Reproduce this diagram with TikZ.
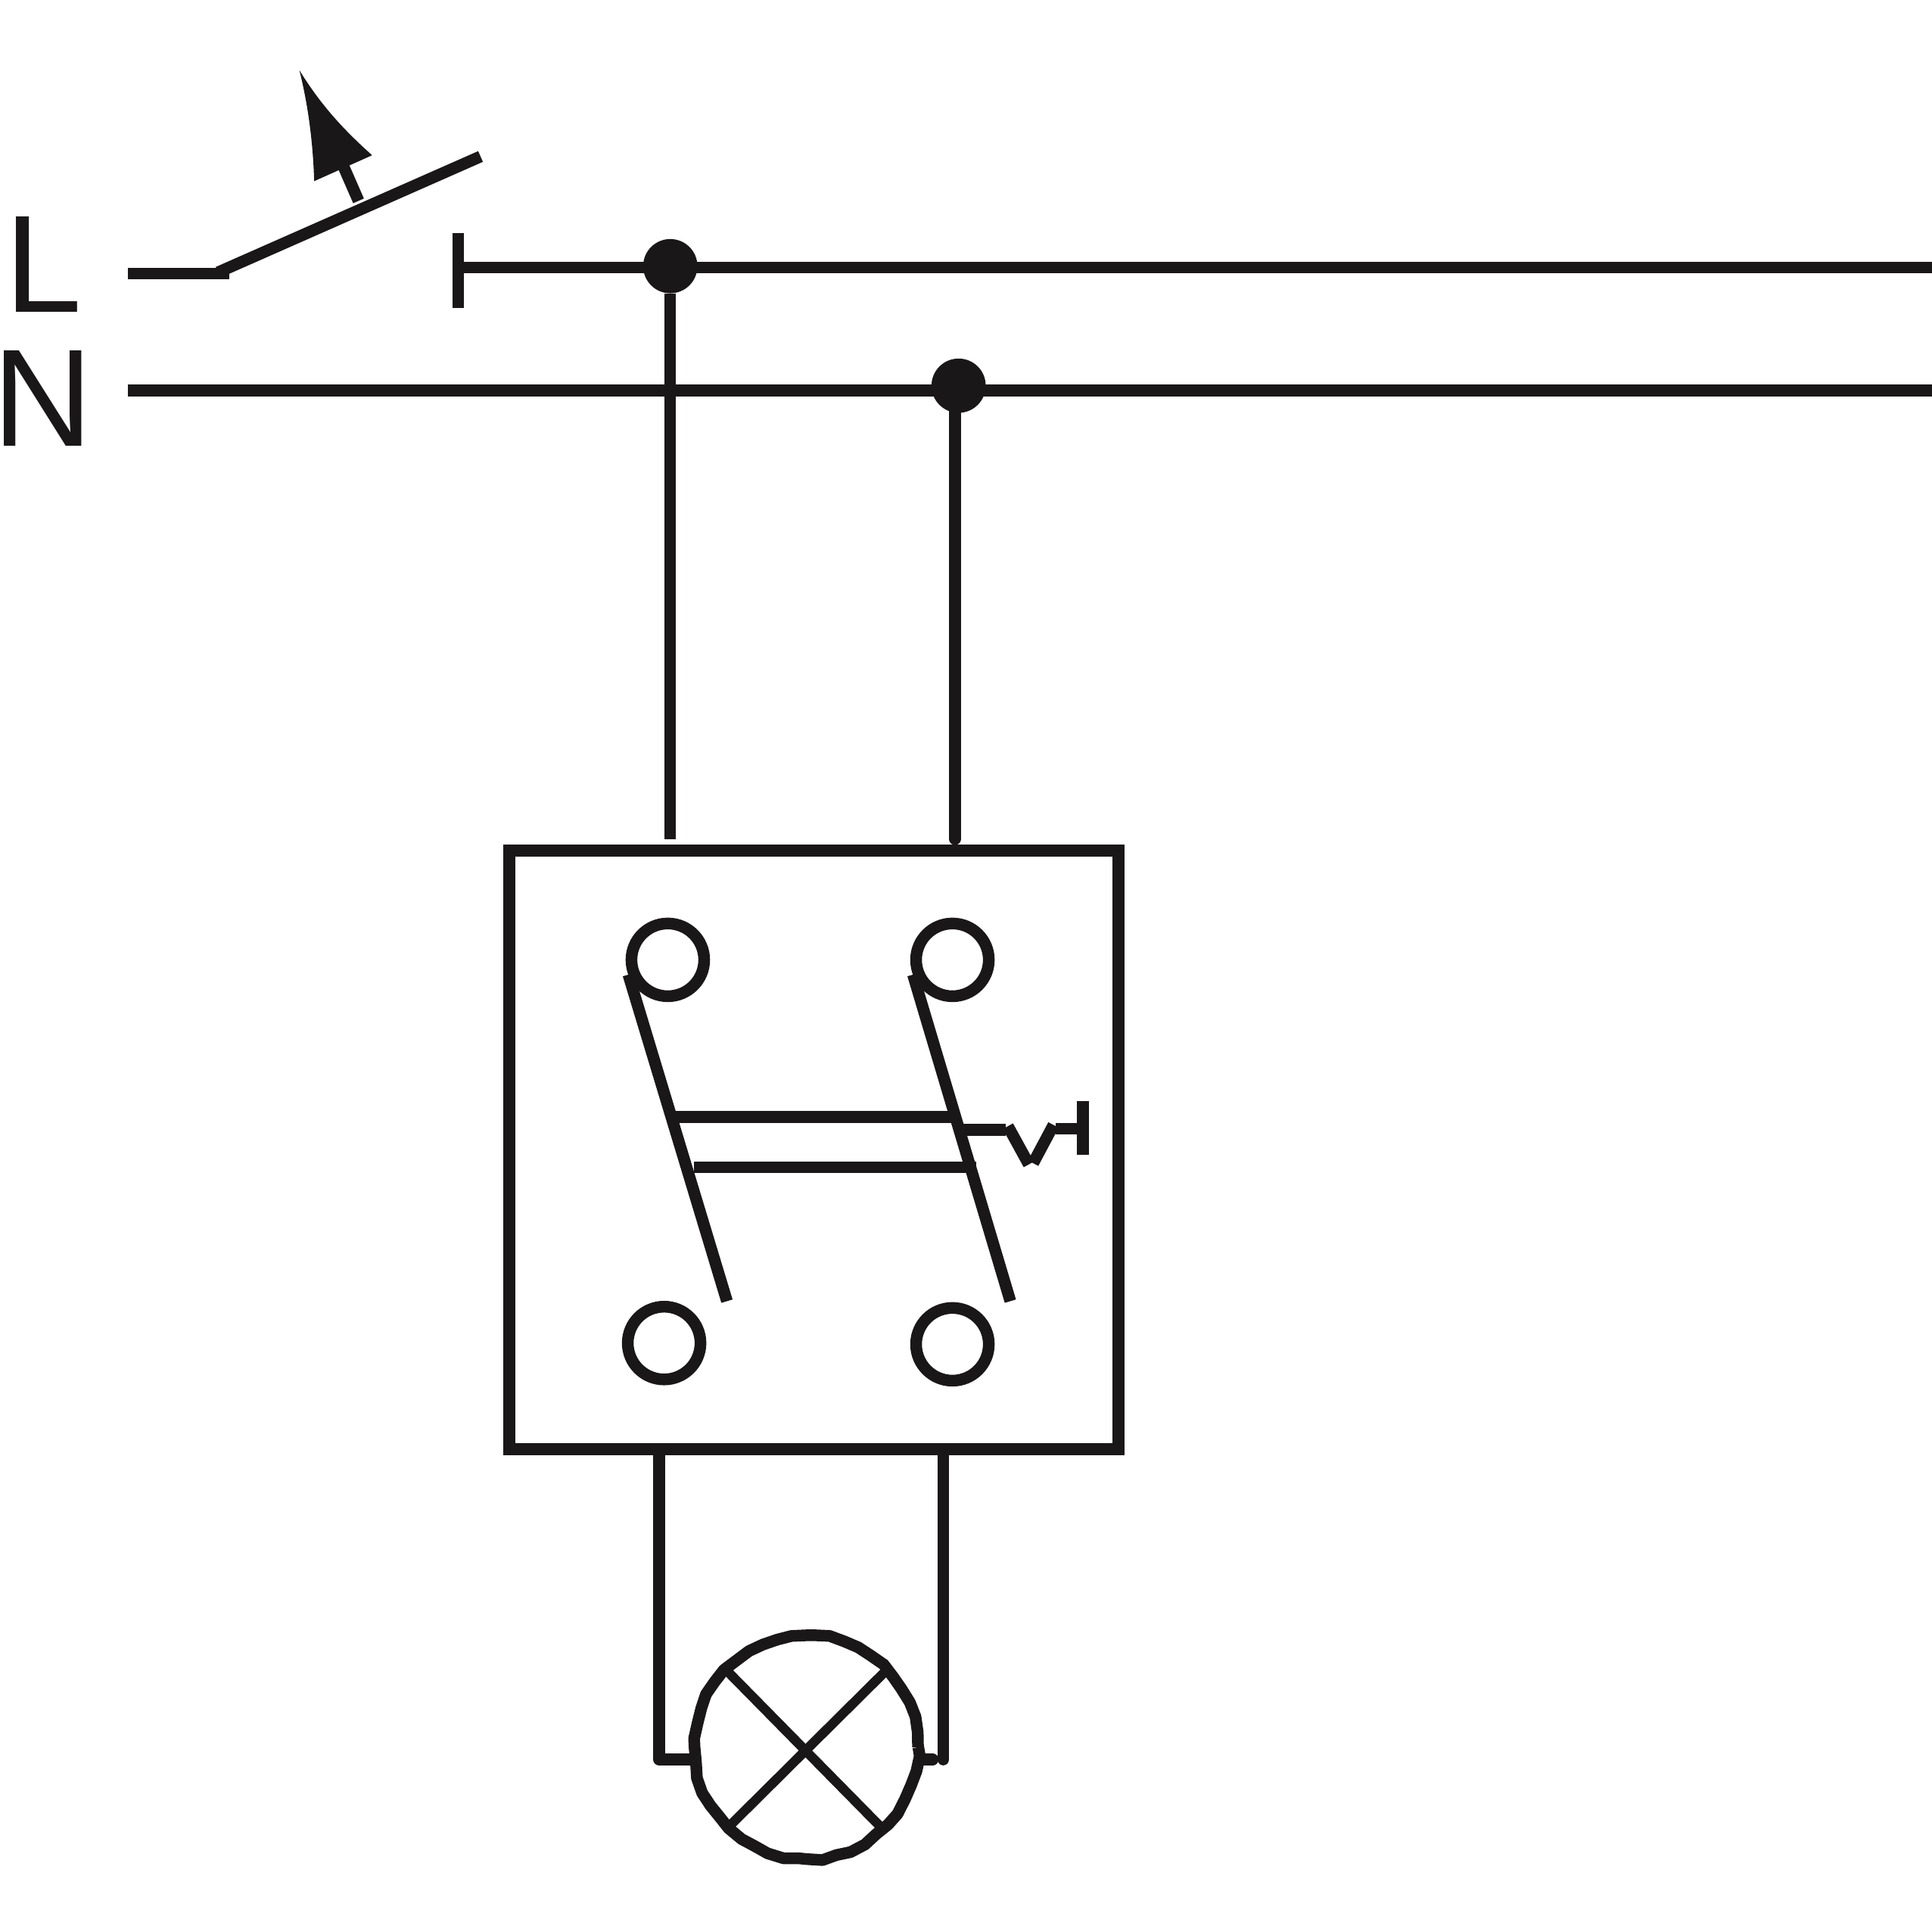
\documentclass[tikz,border=0pt]{standalone}
\usepackage{fontspec}
\setmainfont{Liberation Sans}
\usetikzlibrary{decorations.pathmorphing}
\definecolor{ink}{HTML}{1A1718}

\begin{document}
\begin{tikzpicture}[x=0.01cm,y=-0.01cm,
	wire/.style={draw=ink,line width=2.7pt},
	thin_wire/.style={draw=ink,line width=2.2pt},
	main_node/.style={circle,draw=ink,line width=2.7pt,fill=white,minimum size=0.59cm,inner sep=0pt},
	dot_node/.style={circle,fill=ink,minimum size=0.44cm,inner sep=0pt,outer sep=0pt},
	lamp_node/.style={circle,draw=ink,line width=2.7pt,line join=round,minimum size=1.81cm,inner sep=0pt,decorate,decoration={random steps,segment length=3.5pt,amplitude=0.3pt}},
	letter_node/.style={text=ink,inner sep=0pt,font=\fontsize{32}{33}\selectfont}]

	\pgfmathsetseed{7}
	\useasboundingbox (0,0) rectangle (1568,1568);

	% labels
	\node[letter_node] (L) at (35,214.5) {L};
	\node[letter_node] (N) at (35,323.5) {N};

	% rails
	\coordinate (l_in) at (104,222);
	\coordinate (l_knee) at (186,222);
	\coordinate (arm_a) at (177,221);
	\coordinate (arm_b) at (390,127);
	\coordinate (tee) at (372,217);
	\coordinate (tee_a) at (372,189);
	\coordinate (tee_b) at (372,250);
	\coordinate (l_out) at (1568,217);
	\coordinate (n_in) at (104,317);
	\coordinate (n_out) at (1568,317);
	\coordinate (drop_l) at (544,681);
	\coordinate (drop_n) at (775,681);
	\coordinate (drop_nt) at (775,313);

	\draw[wire] (l_in) -- (l_knee);
	\draw[wire] (arm_a) -- (arm_b);
	\draw[wire] (tee_a) -- (tee_b);
	\draw[wire] (tee) -- (l_out);
	\draw[wire] (n_in) -- (n_out);

	\node[dot_node] (1) at (544,216) {};
	\node[dot_node] (2) at (778,313) {};
	\draw[wire] (1) -- (drop_l);
	\draw[wire,line cap=round] (drop_nt) -- (drop_n);

	% push button
	\coordinate (push_a) at (291,163);
	\coordinate (push_b) at (277,131);
	\draw[wire] (push_a) -- (push_b);
	\fill[ink] (243,57) .. controls (262,88) and (282,108) .. (302,126) -- (255,147) .. controls (254,115) and (250,85) .. (243,57) -- cycle;

	% relay box
	\node[draw=ink,line width=2.8pt,minimum width=4.94cm,minimum height=4.855cm,inner sep=0pt] (box) at (660.5,933) {};

	\node[main_node] (3) at (542,779) {};
	\node[main_node] (4) at (773,779) {};
	\node[main_node] (5) at (539,1090) {};
	\node[main_node] (6) at (773,1091) {};

	\coordinate (c1_a) at (510,791);
	\coordinate (c1_b) at (590,1056);
	\coordinate (c2_a) at (741,791);
	\coordinate (c2_b) at (820,1056);
	\coordinate (bar1_a) at (548,906.5);
	\coordinate (bar1_b) at (772,906.5);
	\coordinate (bar2_a) at (563,947.5);
	\coordinate (bar2_b) at (792.5,947.5);
	\coordinate (coil_a) at (782,917);
	\coordinate (coil_b) at (816,917);
	\coordinate (coil_c) at (818,914);
	\coordinate (coil_d) at (835,945);
	\coordinate (coil_e) at (838.5,944);
	\coordinate (coil_f) at (855,913);
	\coordinate (coil_g) at (857,916);
	\coordinate (coil_h) at (878,916);
	\coordinate (stop_a) at (879,893.5);
	\coordinate (stop_b) at (879,937.5);

	\draw[wire] (c1_a) -- (c1_b);
	\draw[wire] (c2_a) -- (c2_b);
	\draw[wire] (bar1_a) -- (bar1_b);
	\draw[wire] (bar2_a) -- (bar2_b);
	\draw[wire] (coil_a) -- (coil_b);
	\draw[wire] (coil_c) -- (coil_d);
	\draw[wire] (coil_e) -- (coil_f);
	\draw[wire] (coil_g) -- (coil_h);
	\draw[wire] (stop_a) -- (stop_b);

	% lamp
	\node[lamp_node] (lamp) at (654.5,1418) {};
	\coordinate (x1_a) at (589,1355);
	\coordinate (x1_b) at (718,1486);
	\coordinate (x2_a) at (722,1353);
	\coordinate (x2_b) at (590,1484);
	\draw[thin_wire] (x1_a) -- (x1_b);
	\draw[thin_wire] (x2_a) -- (x2_b);

	\coordinate (out_l) at (535,1176);
	\coordinate (out_lb) at (535,1428);
	\coordinate (out_lc) at (562,1428);
	\coordinate (out_r) at (765.5,1176);
	\coordinate (out_rb) at (765.5,1428);
	\coordinate (out_rc) at (748,1428);
	\coordinate (out_rd) at (757,1428);
	\draw[wire,line join=round,line cap=round] (out_l) -- (out_lb) -- (out_lc);
	\draw[wire,line cap=round] (out_r) -- (out_rb);
	\draw[wire,line cap=round] (out_rc) -- (out_rd);
\end{tikzpicture}
\end{document}
